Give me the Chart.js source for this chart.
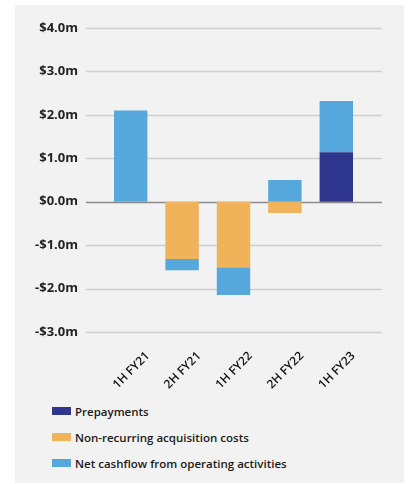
<!DOCTYPE html>
<html>
<head>
<meta charset="utf-8">
<script src="https://cdn.jsdelivr.net/npm/chart.js@4.4.1/dist/chart.umd.min.js"></script>
<style>
  body { margin: 0; background: #ffffff; font-family: "Open Sans", sans-serif; }
  #panel { position: absolute; left: 15px; top: 5px; width: 389px; height: 478px; background: #f2f2f2; }
  #cashChart { position: absolute; left: 0; top: 0; }
  #legend { position: absolute; left: 37px; top: 393px; }
  .item { display: flex; align-items: center; height: 26px; font-size: 11.5px; font-weight: 600; color: #1a1a1a; }
  .box { width: 19px; height: 8px; margin-right: 4px; }
</style>
</head>
<body>
<div id="panel">
  <canvas id="cashChart" width="389" height="385"></canvas>
  <div id="legend"></div>
</div>
<script>
// periods and series ($m)
const periods = ['1H FY21', '2H FY21', '1H FY22', '2H FY22', '1H FY23'];
const prepayments = [0, 0, 0, 0, 1.14];
const acquisitionCosts = [0, -1.32, -1.51, -0.26, 0];
const netCashflow = [2.1, -0.26, -0.64, 0.5, 1.18];
const yTicks = [-3, -2, -1, 0, 1, 2, 3, 4];

const fmt = v => (v < 0 ? '-$' : '$') + Math.abs(v).toFixed(1) + 'm';

// horizontal grid lines, a bit wider than the bar area
const gridLines = {
    id: 'gridLines',
    beforeDatasetsDraw(chart) {
        const ctx = chart.ctx;
        const y = chart.scales.y;
        const left = chart.chartArea.left - 19;
        const right = chart.chartArea.right + 20;
        ctx.save();
        yTicks.forEach(t => {
            const py = Math.round(y.getPixelForValue(t)) + 0.5;
            ctx.beginPath();
            ctx.strokeStyle = t === 0 ? '#8c8c8c' : '#cdcdcd';
            ctx.lineWidth = 1.5;
            ctx.moveTo(left, py);
            ctx.lineTo(right, py);
            ctx.stroke();
        });
        ctx.restore();
    }
};

const ctx = document.getElementById('cashChart').getContext('2d');
const chart = new Chart(ctx, {
    type: 'bar',
    data: {
        labels: periods,
        datasets: [
            { label: 'Prepayments', data: prepayments, backgroundColor: '#2e368e' },
            { label: 'Non-recurring acquisition costs', data: acquisitionCosts, backgroundColor: '#f0b35a' },
            { label: 'Net cashflow from operating activities', data: netCashflow, backgroundColor: '#55a7dc' }
        ]
    },
    options: {
        responsive: false,
        animation: false,
        barPercentage: 0.65,
        categoryPercentage: 1,
        layout: { padding: { top: 23, right: 42, left: 0, bottom: 0 } },
        plugins: {
            legend: { display: false },
            tooltip: { enabled: false }
        },
        scales: {
            x: {
                stacked: true,
                grid: { display: false },
                border: { display: false },
                afterFit: s => { s.height = 58; s.paddingLeft = 0; s.paddingRight = 0; },
                ticks: {
                    maxRotation: 45,
                    minRotation: 45,
                    labelOffset: 17,
                    padding: 9,
                    color: '#111',
                    font: { family: 'Open Sans', size: 12, weight: 600 }
                }
            },
            y: {
                stacked: true,
                min: -3,
                max: 4,
                grid: { display: false, drawTicks: false },
                border: { display: false },
                afterFit: s => { s.width = 90; s.paddingTop = 0; s.paddingBottom = 0; },
                ticks: {
                    stepSize: 1,
                    padding: 27,
                    color: '#222',
                    font: { family: 'Open Sans', size: 13, weight: 'bold' },
                    callback: v => fmt(v)
                }
            }
        }
    },
    plugins: [gridLines]
});

// legend as a vertical list under the chart
const legend = document.getElementById('legend');
chart.data.datasets.forEach(ds => {
    const row = document.createElement('div');
    row.className = 'item';
    row.innerHTML = '<span class="box" style="background:' + ds.backgroundColor + '"></span>' + ds.label;
    legend.appendChild(row);
});
</script>
</body>
</html>
